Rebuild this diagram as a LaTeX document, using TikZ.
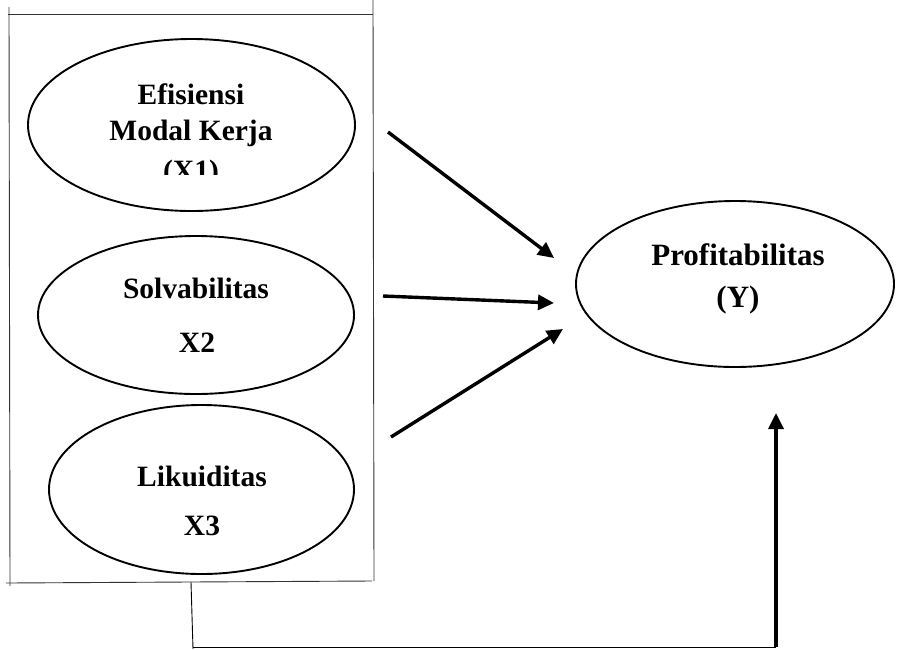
\documentclass[tikz,border=0pt]{standalone}
\usepackage{fontspec}
\setmainfont{Liberation Serif}
\usetikzlibrary{arrows.meta,shapes.geometric}
\begin{document}
\begin{tikzpicture}[x=1pt,y=-1pt,
  var/.style={draw,ellipse,line width=1.9pt,inner sep=0pt},
  lbl/.style={anchor=base,font=\fontsize{29.5}{36}\selectfont\bfseries,inner sep=0pt},
  lbly/.style={anchor=base,font=\fontsize{31}{38}\selectfont\bfseries,inner sep=0pt},
  frame/.style={line width=0.9pt,draw=black!80},
  thick arrow/.style={line width=3.4pt,-{Triangle[length=16pt,width=15pt]}}]
\useasboundingbox (0,0) rectangle (897,649);
% frame
\draw[frame] (8,14) -- (373,14);
\draw[frame] (9,7) -- (10,586);
\draw[frame] (373,0) -- (374,581);
\draw[frame] (6,583) -- (372,581);
% ellipses
\node[var,minimum width=327pt,minimum height=172pt] (e1) at (191.5,125) {};
\node[var,minimum width=316pt,minimum height=158pt] (e2) at (196,315) {};
\node[var,minimum width=305pt,minimum height=169pt] (e3) at (201.5,489.5) {};
\node[var,minimum width=318pt,minimum height=166pt] (ey) at (735,284) {};
% texts
\node[lbl] (t1a) at (191,104) {Efisiensi};
\node[lbl] (t1b) at (191,140) {Modal Kerja};
\begin{scope}
\clip (0,0) rectangle (897,174);
\node[lbl] (t1c) at (191,180) {(X1)};
\end{scope}
\node[lbl] (t2a) at (196,298) {Solvabilitas};
\node[lbl] (t2b) at (197,352.5) {X2};
\node[lbl] (t3a) at (202,486) {Likuiditas};
\node[lbl] (t3b) at (202,535) {X3};
\node[lbly] (tya) at (738,265.5) {Profitabilitas};
\node[lbly] (tyb) at (738,307) {(Y)};
% arrow coordinates
\coordinate (a1s) at (388,132);
\coordinate (a1e) at (554,258);
\coordinate (a2s) at (383,296);
\coordinate (a2e) at (554,303);
\coordinate (a3s) at (391,437);
\coordinate (a3e) at (563,329);
\coordinate (stemtop) at (191,582);
\coordinate (stembot) at (193,649);
\coordinate (corner) at (776,647.5);
\coordinate (a4e) at (776,413);
\draw[thick arrow] (a1s) -- (a1e);
\draw[thick arrow] (a2s) -- (a2e);
\draw[thick arrow] (a3s) -- (a3e);
\draw[line width=0.9pt] (stemtop) -- (stembot);
\draw[line width=1.6pt] (stembot |- corner) -- (corner);
\draw[thick arrow] ([yshift=0.8pt]corner) -- (a4e);
\end{tikzpicture}
\end{document}
